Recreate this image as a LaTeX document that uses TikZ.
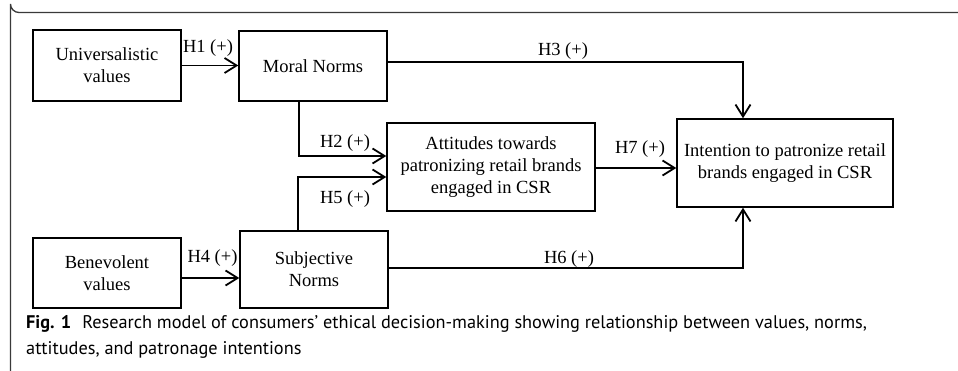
\documentclass[tikz,border=0pt]{standalone}
\usepackage{fontspec}
\setmainfont{Liberation Serif}
\newfontfamily\capfont{PT Sans}
\usetikzlibrary{arrows.meta}
\definecolor{framegray}{HTML}{3A3A3A}
\begin{document}
\begin{tikzpicture}[x=1pt,y=-1pt,
  box/.style={draw=black,line width=1.5pt,rectangle,align=center,inner sep=2pt,
    font=\fontsize{18.5}{22}\selectfont},
  arr/.style={line width=1.8pt,-{Straight Barb[length=12pt,width=15pt,line width=1.8pt]}},
  lab/.style={font=\fontsize{18.5}{22}\selectfont,inner sep=0pt},
  captxt/.style={font=\capfont\fontsize{18.3}{22}\selectfont,anchor=base west,inner sep=0pt}]
\useasboundingbox (0,0) rectangle (958,371);
% frame
\draw[framegray,line width=1.3pt] (958,12.5) -- (19,12.5) arc[start angle=90,end angle=180,radius=8.5] -- (10.5,371);
% boxes
\node[box,minimum width=148,minimum height=71] (uv) at (107,65.5) {Universalistic\\values};
\node[box,minimum width=148,minimum height=70] (mn) at (313,66) {Moral Norms};
\node[box,minimum width=208,minimum height=88] (att) at (491,167) {Attitudes towards\\patronizing retail brands\\engaged in CSR};
\node[box,minimum width=216,minimum height=88] (int) at (785,163) {Intention to patronize retail\\brands engaged in CSR};
\node[box,minimum width=148,minimum height=70] (bv) at (107,273) {Benevolent\\values};
\node[box,minimum width=148,minimum height=77] (sn) at (314,269.5) {Subjective\\Norms};
% connectors
\draw[arr] (uv.east) -- (uv.east -| mn.west);
\draw[arr] ([yshift=4]mn.east) -| ([xshift=-42]int.north);
\draw[arr] ([xshift=-14]mn.south) |- ([yshift=11]att.west);
\draw[arr] ([xshift=-16]sn.north) |- ([yshift=-10]att.west);
\draw[arr] ([yshift=-1]att.east) -- ([yshift=-1]att.east -| int.west);
\draw[arr] ([yshift=-5]bv.east) -- ([yshift=-5]bv.east -| sn.west);
\draw[arr] ([yshift=1.5]sn.east) -| ([xshift=-42]int.south);
% labels
\node[lab] (l1) at (208,48) {H1 (+)};
\node[lab] (l3) at (563,51) {H3 (+)};
\node[lab] (l2) at (345,143) {H2 (+)};
\node[lab] (l5) at (345,199) {H5 (+)};
\node[lab] (l7) at (640,149) {H7 (+)};
\node[lab] (l4) at (212.5,258) {H4 (+)};
\node[lab] (l6) at (569,259) {H6 (+)};
% caption
\node[captxt] (cap1) at (26,328) {\textbf{Fig. 1}\hspace{0.6em}Research model of consumers’ ethical decision-making showing relationship between values, norms,};
\node[captxt] (cap2) at (26,354) {attitudes, and patronage intentions};
\end{tikzpicture}
\end{document}
